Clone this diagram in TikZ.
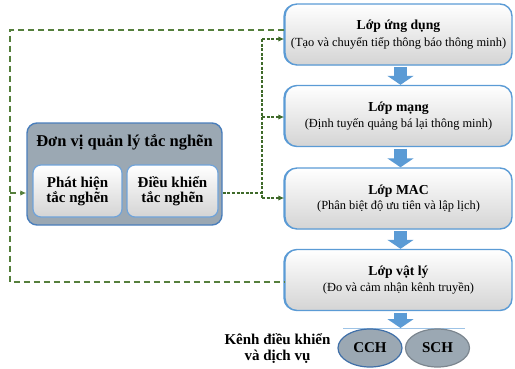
\documentclass[tikz,border=0pt]{standalone}
\usepackage{fontspec}
\setmainfont{Liberation Serif}
\usetikzlibrary{arrows.meta,shapes.geometric,calc}
\definecolor{layerblue}{HTML}{5B9BD5}
\definecolor{unitfill}{HTML}{9BA8B3}
\definecolor{unitborder}{HTML}{4A7EBB}
\definecolor{innerborder}{HTML}{6FA3DA}
\definecolor{dashgreen}{HTML}{557F3C}
\definecolor{dashdark}{HTML}{3F6A2A}
\definecolor{boxbot}{HTML}{D4D4D4}
\definecolor{chanborder}{HTML}{3F6FA8}
\newcommand\ltitle{\fontsize{13.7}{16}\selectfont\bfseries}
\newcommand\lsub{\fontsize{12.4}{15}\selectfont\mdseries}
\begin{document}
\begin{tikzpicture}[x=1pt,y=-1pt,
  layer/.style={draw=layerblue, line width=1.4pt, rounded corners=12pt,
    preaction={fill=layerblue, transform canvas={xshift=-1.6pt}},
    top color=white, bottom color=boxbot, minimum width=227pt,
    minimum height=61pt, align=center, inner sep=0pt},
  unitbox/.style={draw=unitborder, line width=1.4pt, fill=unitfill,
    rounded corners=10pt, minimum width=195pt, minimum height=102pt},
  innerbox/.style={draw=innerborder, line width=1.2pt, rounded corners=8pt,
    top color=white, bottom color=boxbot, minimum height=52pt,
    align=center, inner sep=0pt, font=\fontsize{15}{15}\selectfont\bfseries},
  chan/.style={ellipse, draw=chanborder, line width=1.2pt, fill=unitfill,
    minimum width=64pt, minimum height=38pt, inner sep=0pt,
    font=\fontsize{15}{15}\selectfont\bfseries},
  blockarrow/.style={draw=layerblue, line width=13pt,
    -{Triangle[width=26pt,length=9pt]}},
  outerdash/.style={draw=dashgreen, line width=1.5pt, dash pattern=on 6pt off 4pt},
  innerdash/.style={draw=dashdark, line width=1.2pt, dash pattern=on 3pt off 1.6pt},
  tip/.style={-{Latex[length=6pt,width=5.5pt]}}
]
\useasboundingbox (0,0) rectangle (515,368);

% layers
\node[layer] (l1) at (398.5,34.5) {\ltitle Lớp ứng dụng\\[3.5pt]\lsub (Tạo và chuyển tiếp thông báo thông minh)};
\node[layer] (l2) at (398.5,116) {\ltitle Lớp mạng\\[3.5pt]\lsub (Định tuyến quảng bá lại thông minh)};
\node[layer] (l3) at (398.5,198.5) {\ltitle Lớp MAC\\[3.5pt]\lsub (Phân biệt độ ưu tiên và lập lịch)};
\node[layer] (l4) at (398.5,280) {\ltitle Lớp vật lý\\[3.5pt]\lsub (Đo và cảm nhận kênh truyền)};

\draw[blockarrow] ([xshift=2pt,yshift=-1.5pt]l1.south) -- ([xshift=2pt]l2.north);
\draw[blockarrow] ([xshift=2pt,yshift=-1.5pt]l2.south) -- ([xshift=2pt]l3.north);
\draw[blockarrow] ([xshift=2pt,yshift=-1.5pt]l3.south) -- ([xshift=2pt]l4.north);

% channels
\coordinate (cl) at (343,328);
\coordinate (cr) at (465,328);
\coordinate (cm) at (400.5,328);
\draw[layerblue!60, line width=0.6pt] (cl) -- (cr);
\draw[blockarrow] ([xshift=2pt,yshift=-1.5pt]l4.south) -- (cm);
\node[chan] (cch) at (370,348) {CCH};
\node[chan, draw=unitfill!80!black] (sch) at (437.5,348) {SCH};
\node[align=center, font=\fontsize{15}{15.5}\selectfont\bfseries] (kenh) at (277.5,348.5) {Kênh điều khiển\\và dịch vụ};

% congestion unit
\node[unitbox] (cu) at (124.5,174) {};
\node[font=\fontsize{16.5}{17}\selectfont\bfseries] (cut) at (124.5,142) {Đơn vị quản lý tắc nghẽn};
\node[innerbox, minimum width=89pt] (ph) at (77.5,191) {Phát hiện\\tắc nghẽn};
\node[innerbox, minimum width=91pt] (dk) at (172.5,191) {Điều khiển\\tắc nghẽn};

% outer feedback loop
\coordinate (o1) at (10,30);
\coordinate (o2) at (10,282);
\coordinate (o3) at (10,193);
\draw[outerdash] ([yshift=4.5pt]l1.west) -- (o1) -- (o2) -- ([yshift=-2pt]l4.west);
\draw[outerdash, tip] (o3) -- ([yshift=-19pt]cu.west);

% control bus
\coordinate (bj) at (262,193);
\coordinate (bt) at (262,39);
\coordinate (bm) at (262,117);
\coordinate (bb) at (262,198);
\draw[innerdash] ([yshift=-19pt]cu.east) -- (bj);
\draw[innerdash] (bt) -- (bb);
\draw[innerdash, tip] (bt) -- (bt -| l1.west);
\draw[innerdash, tip] (bm) -- (bm -| l2.west);
\draw[innerdash, tip] (bb) -- (bb -| l3.west);
\end{tikzpicture}
\end{document}
